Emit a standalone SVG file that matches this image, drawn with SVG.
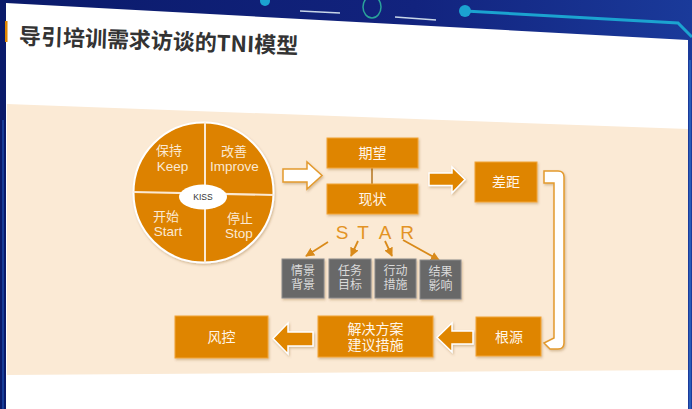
<svg xmlns="http://www.w3.org/2000/svg" width="692" height="409" viewBox="0 0 692 409">
<defs>
<linearGradient id="bg" x1="0" y1="0" x2="1" y2="0">
<stop offset="0" stop-color="#0a1a6a"/>
<stop offset="0.6" stop-color="#12237e"/>
<stop offset="1" stop-color="#1a3a9a"/>
</linearGradient>
<filter id="sh" x="-10%" y="-10%" width="130%" height="130%">
<feDropShadow dx="1" dy="1.5" stdDeviation="1" flood-color="#7a4a10" flood-opacity="0.3"/>
</filter>
<marker id="ah" viewBox="0 0 10 10" refX="9" refY="5" markerWidth="5" markerHeight="5" orient="auto">
<path d="M0,0 L10,5 L0,10 Z" fill="#D98A1A"/>
</marker>
<style>
.ob{fill:#DF8500;stroke:#F2A53A;stroke-width:1;filter:url(#sh)}
.gb{fill:#676767;stroke:#8c8c8c;stroke-width:1;filter:url(#sh)}
.cj{font-family:"Liberation Sans","Noto Sans CJK SC",sans-serif;text-anchor:middle;dominant-baseline:central}
.lt{font-family:"Liberation Sans","Noto Sans CJK SC",sans-serif;text-anchor:middle;dominant-baseline:central}
.wt{fill:#FFF6EA;font-size:14px}
.qt{fill:#FBE9D3}
.gt{fill:#DADADA;font-size:12px}
.oa{fill:#E08600;stroke:#ffffff;stroke-width:1.5;stroke-linejoin:miter;filter:url(#sh)}
.wa{fill:#ffffff;stroke:#E39A2E;stroke-width:1.5;filter:url(#sh)}
.sl{stroke:#D98A1A;stroke-width:1.8;fill:none;marker-end:url(#ah)}
.st{font-family:"Liberation Sans",sans-serif;font-size:19px;fill:#E39324;text-anchor:middle}
</style>
</defs>

<!-- background frame -->
<rect x="0" y="0" width="692" height="409" fill="url(#bg)"/>
<polygon points="6,3 688,40 688,409 6,409" fill="#ffffff"/>
<line x1="3" y1="120" x2="3" y2="409" stroke="#2a6ad0" stroke-width="1.5" opacity="0.6"/>
<line x1="690" y1="60" x2="690" y2="409" stroke="#3a8ae0" stroke-width="1.5" opacity="0.6"/>
<!-- top decorations -->
<circle cx="265" cy="1" r="5" fill="#1BA3D0"/>
<line x1="300" y1="11" x2="340" y2="13" stroke="#c8d6e8" stroke-width="1.5"/>
<ellipse cx="372" cy="7" rx="9" ry="11" fill="none" stroke="#2aa39a" stroke-width="1.5"/>
<line x1="395" y1="17" x2="436" y2="20" stroke="#c8d6e8" stroke-width="1.5"/>
<polyline points="465,11 678,23 692,37" fill="none" stroke="#1BA3D0" stroke-width="3"/>
<circle cx="465" cy="11" r="6" fill="#1BA3D0"/>

<!-- title -->
<rect x="5" y="21" width="2.5" height="21" fill="#E08600"/>
<text x="19" y="44" transform="rotate(2 19 35)" font-family="'Noto Sans CJK SC','Liberation Sans',sans-serif" font-size="22" font-weight="bold" fill="#333333">导引培训需求访谈的TNI模型</text>

<!-- beige panel -->
<polygon points="7,104 688,129 688,370 7,375" fill="#FBEAD5"/>

<!-- KISS circle -->
<g id="kiss-circle">
<circle cx="203.5" cy="192.5" r="70" fill="#DD8200" stroke="#ffffff" stroke-width="2" filter="url(#sh)"/>
<line x1="205" y1="122.5" x2="205" y2="262.5" stroke="#FBE9D3" stroke-width="2"/>
<line x1="133.5" y1="192" x2="273.5" y2="195" stroke="#FBE9D3" stroke-width="2"/>
<ellipse cx="203" cy="197" rx="24" ry="12.5" fill="#ffffff"/>
<text class="lt" x="203" y="197" font-size="8.5" fill="#333333">KISS</text>
<text class="cj qt" x="169" y="150.5" font-size="13">保持</text>
<text class="lt qt" x="172.5" y="166" font-size="13.5">Keep</text>
<text class="cj qt" x="234" y="151" font-size="13">改善</text>
<text class="lt qt" x="234.5" y="166.5" font-size="13.5">Improve</text>
<text class="cj qt" x="166" y="216.5" font-size="13">开始</text>
<text class="lt qt" x="168" y="231.5" font-size="13.5">Start</text>
<text class="cj qt" x="240" y="218" font-size="13">停止</text>
<text class="lt qt" x="239" y="233.5" font-size="13.5">Stop</text>
</g>

<!-- connectors -->
<g id="connectors">
<polygon class="wa" points="283,169 307,169 307,162 322,175.5 307,189 307,182 283,182"/>
<line x1="372" y1="168" x2="372" y2="184" stroke="#B5741E" stroke-width="1.5"/>
<polygon class="oa" points="429,173 452,173 452,167 465,179.5 452,193 452,185.5 429,185.5"/>
<path class="wa" d="M544,171 H558 Q564,171 564,177 V343 Q564,349 558,349 H550 L544,343 L554,338 V183 H544 Z"/>
<polygon class="oa" points="473,331 452,331 452,323 437,337.5 452,352 452,344 473,344"/>
<polygon class="oa" points="313,332 288,332 288,323 273,338.5 288,354 288,346 313,346"/>
<line class="sl" x1="328" y1="242" x2="306" y2="256"/>
<line class="sl" x1="358" y1="241" x2="351" y2="256"/>
<line class="sl" x1="385" y1="241" x2="392" y2="256"/>
<line class="sl" x1="403" y1="240" x2="439" y2="260"/>
</g>

<g id="qiwang">
<rect class="ob" x="327" y="138" width="91" height="30"/>
<text class="cj wt" x="372.5" y="153">期望</text>
</g>
<g id="xianzhuang">
<rect class="ob" x="327" y="184" width="91" height="30"/>
<text class="cj wt" x="372.5" y="199">现状</text>
</g>
<g id="star">
<text class="st" x="342" y="239">S</text>
<text class="st" x="363" y="239">T</text>
<text class="st" x="385" y="239">A</text>
<text class="st" x="407" y="239">R</text>
</g>
<g id="situation">
<rect class="gb" x="282" y="259" width="42" height="39"/>
<text class="cj gt" x="303" y="271">情景</text>
<text class="cj gt" x="303" y="285">背景</text>
</g>
<g id="task">
<rect class="gb" x="329" y="259" width="42" height="39"/>
<text class="cj gt" x="350" y="271">任务</text>
<text class="cj gt" x="350" y="285">目标</text>
</g>
<g id="action">
<rect class="gb" x="375" y="259" width="41" height="39"/>
<text class="cj gt" x="395.5" y="271">行动</text>
<text class="cj gt" x="395.5" y="285">措施</text>
</g>
<g id="result">
<rect class="gb" x="420" y="260" width="41" height="39"/>
<text class="cj gt" x="440.5" y="272">结果</text>
<text class="cj gt" x="440.5" y="286">影响</text>
</g>
<g id="chaju">
<rect class="ob" x="475" y="162" width="62" height="40"/>
<text class="cj wt" x="506" y="182">差距</text>
</g>
<g id="genyuan">
<rect class="ob" x="476" y="317" width="65" height="39"/>
<text class="cj wt" x="509" y="337">根源</text>
</g>
<g id="jiejue">
<rect class="ob" x="318" y="316" width="115" height="41"/>
<text class="cj wt" x="375.5" y="329" font-size="13">解决方案</text>
<text class="cj wt" x="375.5" y="344.5" font-size="13">建议措施</text>
</g>
<g id="fengkong">
<rect class="ob" x="175" y="316" width="93" height="42"/>
<text class="cj wt" x="221.5" y="337">风控</text>
</g>
</svg>
